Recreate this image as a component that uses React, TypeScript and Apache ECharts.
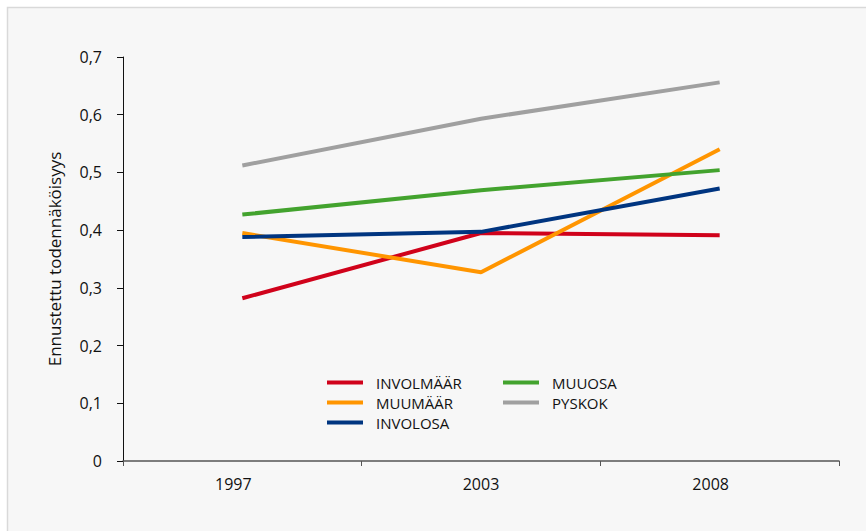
import React, { useEffect, useRef } from "react";
import * as echarts from "echarts";

const categories = ["1997", "2003", "2008"];
const involmaar = [0.282, 0.395, 0.391];
const muumaar = [0.395, 0.327, 0.54];
const involosa = [0.388, 0.397, 0.472];
const muuosa = [0.427, 0.469, 0.504];
const pyskok = [0.512, 0.593, 0.656];

const seriesNames = ["INVOLMÄÄR", "MUUMÄÄR", "INVOLOSA", "MUUOSA", "PYSKOK"];
const seriesData = [involmaar, muumaar, involosa, muuosa, pyskok];
const seriesColors = ["#d0021b", "#ff9500", "#003580", "#43a32e", "#a0a0a0"];

const FONT = "'Open Sans', sans-serif";

const legendBase = {
  orient: "vertical",
  top: 375,
  padding: 0,
  icon: "rect",
  itemWidth: 36,
  itemHeight: 4,
  itemGap: 5,
  textStyle: { fontSize: 15, color: "#111", fontFamily: FONT, padding: [0, 0, 0, 8] },
};

export default function App() {
  const ref = useRef<HTMLDivElement>(null);
  useEffect(() => {
    if (!ref.current) return;
    const chart = echarts.init(ref.current, null, { renderer: "svg" });
    chart.setOption({
      animation: false,
      backgroundColor: "#ffffff",
      graphic: [
        {
          type: "rect",
          z: -10,
          silent: true,
          shape: { x: 7.5, y: 7.5, width: 900, height: 600 },
          style: { fill: "#f7f7f7", stroke: "#d9d9d9", lineWidth: 1.5 },
        },
      ],
      grid: { left: 123, right: 27, top: 57, bottom: 70, containLabel: false },
      legend: [
        { ...legendBase, data: seriesNames.slice(0, 3), left: 327 },
        { ...legendBase, data: seriesNames.slice(3), left: 503 },
      ],
      xAxis: {
        type: "category",
        data: categories,
        boundaryGap: true,
        axisLine: { lineStyle: { color: "#555", width: 1.5 } },
        axisTick: { show: true, length: 5, inside: false, lineStyle: { color: "#555" } },
        axisLabel: {
          fontSize: 16,
          color: "#111",
          fontFamily: FONT,
          margin: 15,
          formatter: (v: string, i: number) => (i === 1 ? `{c|${v}}` : `{s|${v}}`),
          rich: {
            c: { fontSize: 16, color: "#111", fontFamily: FONT },
            s: { fontSize: 16, color: "#111", fontFamily: FONT, padding: [0, 18, 0, 0] },
          },
        },
        splitLine: { show: false },
      },
      yAxis: {
        type: "value",
        min: 0,
        max: 0.7,
        interval: 0.1,
        name: "Ennustettu todennäköisyys",
        nameLocation: "middle",
        nameGap: 60,
        nameTextStyle: { fontSize: 17, color: "#111", fontFamily: FONT },
        axisLine: { show: true, lineStyle: { color: "#111", width: 1 } },
        axisTick: { show: true, length: 6, lineStyle: { color: "#111" } },
        axisLabel: {
          fontSize: 16,
          color: "#111",
          fontFamily: FONT,
          margin: 21,
          formatter: (v: number) => (Math.round(v * 10) / 10).toString().replace(".", ","),
        },
        splitLine: { show: false },
      },
      series: seriesNames.map((name, i) => ({
        name,
        type: "line",
        data: seriesData[i],
        color: seriesColors[i],
        symbol: "none",
        lineStyle: { width: 4, color: seriesColors[i] },
        itemStyle: { color: seriesColors[i] },
      })),
    });
    return () => chart.dispose();
  }, []);
  return (
    <div
      ref={ref}
      style={{ position: "absolute", left: 0, top: 0, width: 866, height: 531 }}
    />
  );
}
